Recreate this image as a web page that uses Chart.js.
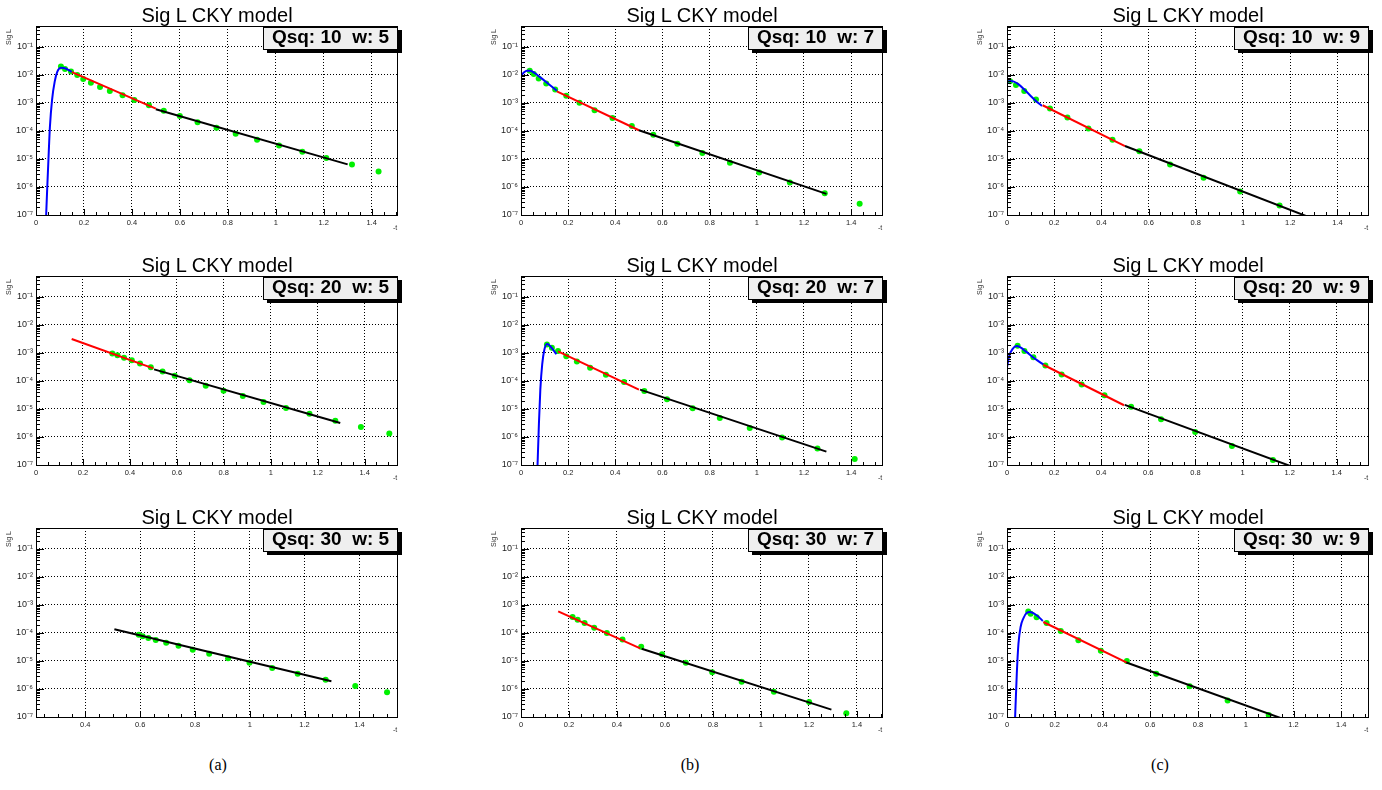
<!DOCTYPE html>
<html>
<head>
<meta charset="utf-8">
<title>Sig L CKY model</title>
<script src="https://cdn.jsdelivr.net/npm/chart.js@4.4.1/dist/chart.umd.min.js"></script>
<style>
  body { margin: 0; background: #fff; width: 1382px; height: 790px; overflow: hidden; position: relative;
         font-family: "Liberation Sans", Arial, sans-serif; }
  .panel { position: absolute; width: 410px; height: 235px; }
  .panel canvas { position: absolute; left: 0; top: 0; }
  .title { position: absolute; left: 36px; width: 362px; top: 5px; text-align: center;
           font-size: 20px; line-height: 20px; color: #000; white-space: nowrap; }
  .qbox { position: absolute; left: 263px; top: 27px; width: 135px; height: 23px; box-sizing: border-box;
          border: 1px solid #000; background: #efefef; box-shadow: 4px 3px 0 #000;
          font-weight: bold; font-size: 19px; line-height: 18px; text-align: center; white-space: pre; }
  .ytitle { position: absolute; left: 5px; top: 29px; writing-mode: vertical-rl; transform: rotate(180deg);
            font-size: 7px; line-height: 8px; color: #333; }
  .xtitle { position: absolute; left: 393px; top: 224px; font-size: 7px; line-height: 8px; color: #333; }
  .caption { position: absolute; top: 756px; width: 40px; text-align: center;
             font-family: "Liberation Serif", "DejaVu Serif", serif; font-size: 16px; line-height: 18px; }
</style>
</head>
<body>
<div class="caption" style="left:198px">(a)</div>
<div class="caption" style="left:670px">(b)</div>
<div class="caption" style="left:1140px">(c)</div>

<script>
// tick labels
const tTicks = [0, 0.2, 0.4, 0.6, 0.8, 1, 1.2, 1.4];
const sigTicks = [1e-7, 1e-6, 1e-5, 1e-4, 1e-3, 1e-2, 1e-1];
const qsqValues = [10, 20, 30];   // rows
const wValues = [5, 7, 9];        // columns

// ---- Qsq 10 ----
const q10w5_points = [[0.104,1.99e-2],[0.121,1.64e-2],[0.146,1.32e-2],[0.172,1.0e-2],[0.197,7.2e-3],[0.229,5.3e-3],
  [0.267,3.7e-3],[0.308,2.7e-3],[0.361,1.88e-3],[0.410,1.28e-3],[0.471,8.3e-4],[0.533,5.3e-4],[0.600,3.4e-4],
  [0.674,2.07e-4],[0.753,1.31e-4],[0.833,8.0e-5],[0.922,4.9e-5],[1.014,3.0e-5],[1.111,1.83e-5],[1.211,1.09e-5],
  [1.318,6.3e-6],[1.429,3.6e-6]];
const q10w5_blue = [[0.041,5e-8],[0.047,1.0e-6],[0.053,1.6e-5],[0.058,1.4e-4],[0.067,1.3e-3],[0.078,5.8e-3],
  [0.089,1.32e-2],[0.104,1.82e-2],[0.121,1.74e-2],[0.137,1.48e-2],[0.149,1.29e-2]];
const q10w5_red = [[0.15,1.27e-2],[0.5,6.3e-4]];
const q10w5_black = [[0.5,6.0e-4],[1.3,6.4e-6]];

const q10w7_points = [[0.037,1.42e-2],[0.054,1.08e-2],[0.075,7.5e-3],[0.107,5.0e-3],[0.145,3.04e-3],[0.192,1.80e-3],
  [0.248,1.01e-3],[0.312,5.5e-4],[0.388,2.93e-4],[0.470,1.51e-4],[0.561,7.4e-5],[0.663,3.5e-5],[0.769,1.63e-5],
  [0.886,7.3e-6],[1.010,3.3e-6],[1.140,1.45e-6],[1.288,6.0e-7],[1.436,2.5e-7]];
const q10w7_blue = [[0,9.6e-3],[0.011,1.2e-2],[0.025,1.42e-2],[0.039,1.42e-2],[0.056,1.2e-2],[0.082,8.2e-3],
  [0.110,5.3e-3],[0.152,2.72e-3]];
const q10w7_red = [[0.152,2.6e-3],[0.5,1.06e-4]];
const q10w7_black = [[0.5,1.06e-4],[1.295,5.7e-7]];

const q10w9_points = [[0.013,6.0e-3],[0.038,4.35e-3],[0.073,2.65e-3],[0.123,1.33e-3],[0.182,6.3e-4],[0.256,3.0e-4],
  [0.345,1.22e-4],[0.447,4.9e-5],[0.561,1.87e-5],[0.691,6.4e-6],[0.833,2.13e-6],[0.988,6.9e-7],[1.155,2.17e-7]];
const q10w9_blue = [[0,5.5e-3],[0.013,6.1e-3],[0.027,5.9e-3],[0.048,4.7e-3],[0.083,2.5e-3],[0.119,1.26e-3],[0.148,7.8e-4]];
const q10w9_red = [[0.151,8.3e-4],[0.5,2.9e-5]];
const q10w9_black = [[0.5,2.9e-5],[1.3,7.2e-8]];

// ---- Qsq 20 ----
const q20w5_points = [[0.325,9.5e-4],[0.347,8.3e-4],[0.375,6.8e-4],[0.408,5.5e-4],[0.443,4.2e-4],[0.489,3.1e-4],
  [0.539,2.2e-4],[0.591,1.55e-4],[0.654,1.06e-4],[0.723,6.8e-5],[0.799,4.5e-5],[0.881,2.9e-5],[0.969,1.78e-5],
  [1.065,1.09e-5],[1.165,6.8e-6],[1.275,3.8e-6],[1.384,2.28e-6],[1.505,1.32e-6]];
const q20w5_blue = [];
const q20w5_red = [[0.152,3.16e-3],[0.5,2.83e-4]];
const q20w5_black = [[0.503,2.6e-4],[1.296,3.16e-6]];

const q20w7_points = [[0.110,2.02e-3],[0.131,1.53e-3],[0.157,1.17e-3],[0.192,7.7e-4],[0.237,4.98e-4],[0.293,2.95e-4],
  [0.360,1.66e-4],[0.437,9.1e-5],[0.523,4.4e-5],[0.619,2.23e-5],[0.728,1.06e-5],[0.843,4.8e-6],[0.970,2.1e-6],
  [1.107,9.5e-7],[1.257,3.9e-7],[1.415,1.63e-7]];
const q20w7_blue = [[0.069,5e-8],[0.076,3e-6],[0.082,5e-5],[0.090,4e-4],[0.099,1.3e-3],[0.110,2.1e-3],
  [0.120,1.9e-3],[0.135,1.35e-3],[0.150,9e-4]];
const q20w7_red = [[0.157,1.14e-3],[0.5,4.9e-5]];
const q20w7_black = [[0.505,4.9e-5],[1.295,3.0e-7]];

const q20w9_points = [[0.045,1.81e-3],[0.074,1.17e-3],[0.112,7.1e-4],[0.163,3.58e-4],[0.232,1.71e-4],[0.317,7.5e-5],
  [0.414,3.1e-5],[0.527,1.19e-5],[0.654,4.3e-6],[0.799,1.51e-6],[0.955,4.8e-7],[1.129,1.5e-7]];
const q20w9_blue = [[0,3.1e-4],[0.01,8.1e-4],[0.024,1.4e-3],[0.041,1.76e-3],[0.055,1.62e-3],[0.084,1.07e-3],
  [0.119,6.2e-4],[0.154,3.9e-4]];
const q20w9_red = [[0.154,3.8e-4],[0.497,1.36e-5]];
const q20w9_black = [[0.5,1.4e-5],[1.3,4.6e-8]];

// ---- Qsq 30 ----
const q30w5_points = [[0.595,8.7e-5],[0.609,7.6e-5],[0.630,6.6e-5],[0.657,5.6e-5],[0.695,4.5e-5],[0.740,3.5e-5],
  [0.792,2.54e-5],[0.852,1.83e-5],[0.921,1.25e-5],[0.999,8.7e-6],[1.082,5.6e-6],[1.175,3.5e-6],[1.277,2.16e-6],
  [1.385,1.28e-6],[1.501,7.6e-7]];
const q30w5_blue = [];
const q30w5_red = [];
const q30w5_black = [[0.506,1.35e-4],[1.298,1.88e-6]];

const q30w7_points = [[0.215,3.73e-4],[0.236,2.99e-4],[0.265,2.28e-4],[0.305,1.55e-4],[0.358,1.0e-4],[0.423,5.8e-5],
  [0.501,3.25e-5],[0.588,1.73e-5],[0.687,8.7e-6],[0.797,3.94e-6],[0.920,1.83e-6],[1.054,8.0e-7],[1.201,3.4e-7],
  [1.356,1.35e-7]];
const q30w7_blue = [];
const q30w7_red = [[0.155,5.9e-4],[0.497,2.83e-5]];
const q30w7_black = [[0.503,2.75e-5],[1.294,1.83e-7]];

const q30w9_points = [[0.089,5.9e-4],[0.099,4.9e-4],[0.124,3.63e-4],[0.166,2.28e-4],[0.225,1.18e-4],[0.299,5.5e-5],
  [0.393,2.34e-5],[0.502,1.0e-5],[0.625,3.5e-6],[0.765,1.25e-6],[0.924,3.9e-7],[1.096,1.18e-7]];
const q30w9_blue = [[0.033,6e-8],[0.041,3.5e-6],[0.048,4.2e-5],[0.057,1.64e-4],[0.068,3.25e-4],[0.082,5.2e-4],
  [0.096,5.6e-4],[0.124,4.3e-4],[0.150,2.7e-4]];
const q30w9_red = [[0.152,2.47e-4],[0.502,8.7e-6]];
const q30w9_black = [[0.5,8.8e-6],[1.3,3.1e-8]];

// axis ranges of each pad (row by row)
const tMins = [0, 0, 0,  0, 0, 0,  0.22, 0, 0];
const tMaxs = [1.51, 1.535, 1.534,  1.542, 1.535, 1.537,  1.541, 1.509, 1.516];

const panels = [
  [q10w5_points, q10w5_blue, q10w5_red, q10w5_black],
  [q10w7_points, q10w7_blue, q10w7_red, q10w7_black],
  [q10w9_points, q10w9_blue, q10w9_red, q10w9_black],
  [q20w5_points, q20w5_blue, q20w5_red, q20w5_black],
  [q20w7_points, q20w7_blue, q20w7_red, q20w7_black],
  [q20w9_points, q20w9_blue, q20w9_red, q20w9_black],
  [q30w5_points, q30w5_blue, q30w5_red, q30w5_black],
  [q30w7_points, q30w7_blue, q30w7_red, q30w7_black],
  [q30w9_points, q30w9_blue, q30w9_red, q30w9_black]
];

const colLeft = [0, 485, 971];
const rowTop = [0, 250, 502];

Chart.defaults.font.family = '"Liberation Sans", Arial, sans-serif';

const SUP = { '-': '\u207B', '0': '\u2070', '1': '\u00B9', '2': '\u00B2', '3': '\u00B3', '4': '\u2074',
              '5': '\u2075', '6': '\u2076', '7': '\u2077', '8': '\u2078', '9': '\u2079' };
function decadeLabel(v) {
  const e = String(Math.round(Math.log10(v)));
  return '10' + e.split('').map(c => SUP[c]).join('');
}
function toXY(pairs) { return pairs.map(p => ({ x: p[0], y: p[1] })); }

// ROOT style frame with inward tick marks
const rootFrame = {
  id: 'rootFrame',
  afterDatasetsDraw(chart) {
    const { ctx, chartArea: a, scales: { x, y } } = chart;
    ctx.save();
    ctx.strokeStyle = '#000';
    ctx.lineWidth = 1;
    ctx.beginPath();
    const step = 0.05;
    for (let k = Math.ceil(x.min / step - 1e-6); k * step <= x.max + 1e-9; k++) {
      const px = Math.round(x.getPixelForValue(k * step)) + 0.5;
      const len = (k % 4 === 0) ? 6 : 3;
      ctx.moveTo(px, a.bottom);
      ctx.lineTo(px, a.bottom - len);
    }
    for (let d = -7; d <= 0; d++) {
      for (let m = 1; m <= 9; m++) {
        const v = m * Math.pow(10, d);
        if (v < y.min * 0.999 || v > y.max) continue;
        const py = Math.round(y.getPixelForValue(v)) + 0.5;
        const len = m === 1 ? 8 : 4;
        ctx.moveTo(a.left, py);
        ctx.lineTo(a.left + len, py);
      }
    }
    ctx.stroke();
    ctx.strokeRect(Math.round(a.left) + 0.5, Math.round(a.top) + 0.5,
                   Math.round(a.right - a.left) - 1, Math.round(a.bottom - a.top));
    ctx.restore();
  }
};

function lineSet(pairs, color, curved) {
  return {
    data: toXY(pairs), showLine: true, borderColor: color, borderWidth: 2,
    pointRadius: 0, tension: 0, cubicInterpolationMode: curved ? 'monotone' : 'default'
  };
}

panels.forEach((p, i) => {
  const row = Math.floor(i / 3), col = i % 3;
  const wrap = document.createElement('div');
  wrap.className = 'panel';
  wrap.style.left = colLeft[col] + 'px';
  wrap.style.top = rowTop[row] + 'px';
  const canvas = document.createElement('canvas');
  canvas.width = 410; canvas.height = 235;
  wrap.appendChild(canvas);
  wrap.insertAdjacentHTML('beforeend',
    '<div class="title">Sig L CKY model</div>' +
    '<div class="qbox">Qsq: ' + qsqValues[row] + '  w: ' + wValues[col] + '</div>' +
    '<div class="ytitle">Sig L</div>' +
    '<div class="xtitle">-t</div>');
  document.body.appendChild(wrap);

  new Chart(canvas, {
    type: 'scatter',
    data: {
      datasets: [
        lineSet(p[3], '#000000', false),
        lineSet(p[2], '#ff0000', false),
        lineSet(p[1], '#0000ff', true),
        { data: toXY(p[0]), pointRadius: 3, pointBackgroundColor: '#00f000', pointBorderWidth: 0, showLine: false }
      ]
    },
    options: {
      responsive: false,
      animation: false,
      devicePixelRatio: 1,
      layout: { padding: { top: 26, right: 12, left: 0, bottom: 0 } },
      plugins: { legend: { display: false }, tooltip: { enabled: false } },
      scales: {
        x: {
          type: 'linear', bounds: 'data', min: tMins[i], max: tMaxs[i],
          afterFit: s => { s.height = 20; },
          afterBuildTicks: s => { s.ticks = tTicks.filter(v => v >= tMins[i] - 1e-9 && v <= tMaxs[i]).map(v => ({ value: v })); },
          ticks: { autoSkip: false, maxRotation: 0, padding: 3, color: '#222', font: { size: 7.5 },
                   callback: v => String(Math.round(v * 100) / 100) },
          grid: { drawTicks: false, color: '#000', lineWidth: 1 },
          border: { display: false, dash: [1, 2] }
        },
        y: {
          type: 'logarithmic', bounds: 'data', min: 1e-7, max: 0.56,
          afterFit: s => { s.width = 36; },
          afterBuildTicks: s => { s.ticks = sigTicks.map(v => ({ value: v })); },
          ticks: { autoSkip: false, padding: 3, color: '#222', font: { size: 9 }, callback: v => decadeLabel(v) },
          grid: { drawTicks: false, color: '#000', lineWidth: 1 },
          border: { display: false, dash: [1, 2] }
        }
      }
    },
    plugins: [rootFrame]
  });
});
</script>
</body>
</html>
